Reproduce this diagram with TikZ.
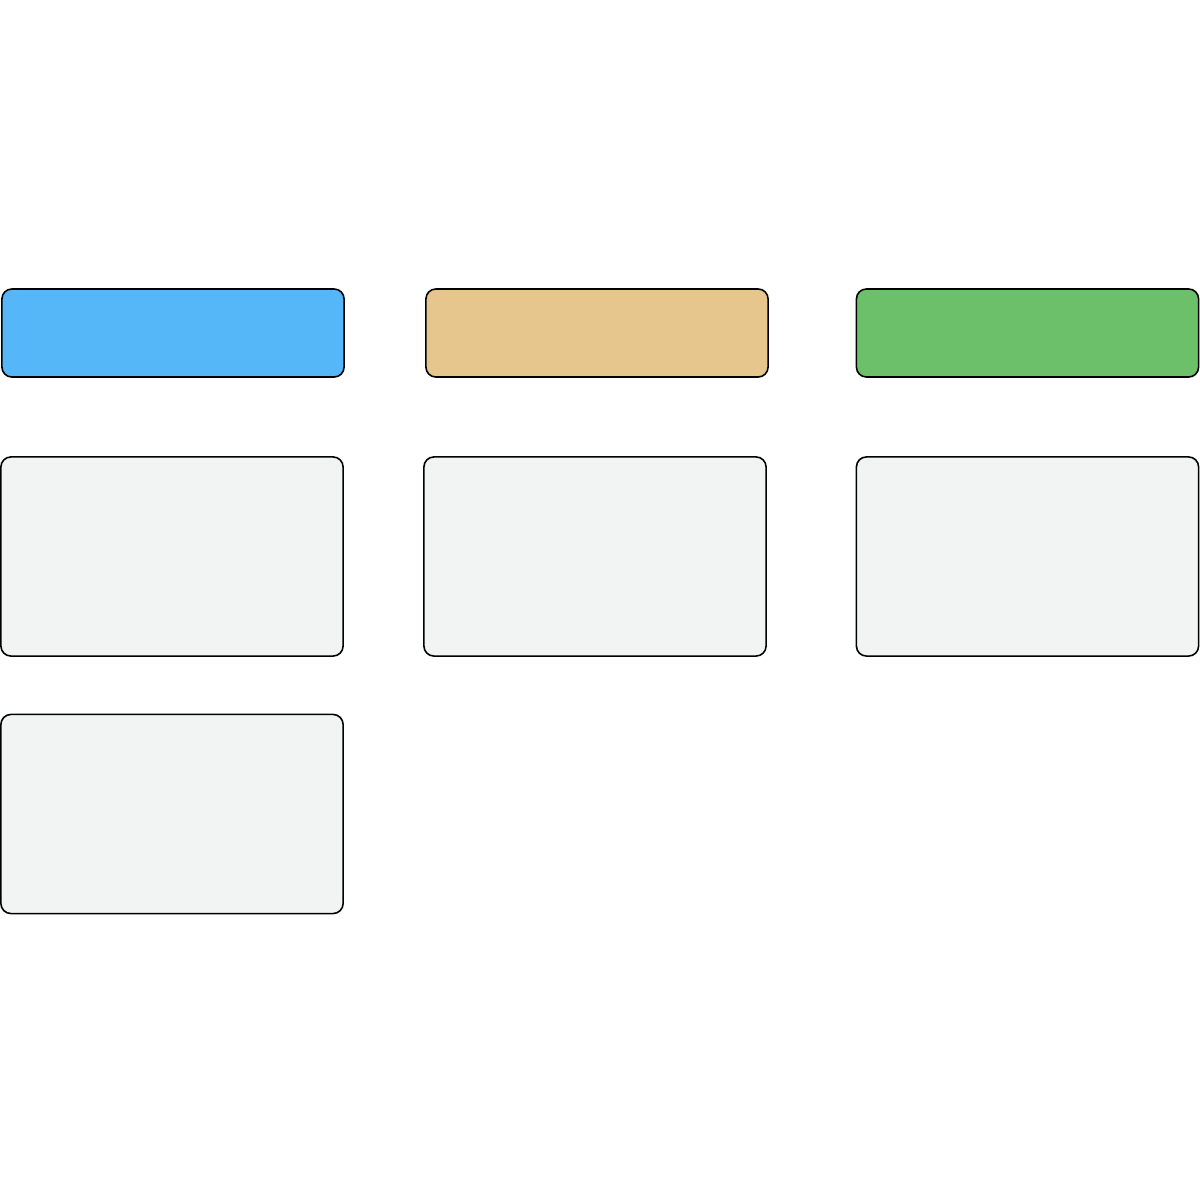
\documentclass[tikz,border=0pt]{standalone}
\usepackage{tikz}
\definecolor{cblue}{HTML}{55B6F8}
\definecolor{ctan}{HTML}{E6C68C}
\definecolor{cgreen}{HTML}{6CC06A}
\definecolor{cgrey}{HTML}{F2F3F3}
\begin{document}
\begin{tikzpicture}[x=0.01cm,y=-0.01cm,
  box/.style={draw=black,line width=0.45pt,rounded corners=0.1cm,inner sep=0pt,
    minimum width=3.42cm},
  head/.style={box,minimum height=0.88cm},
  card/.style={box,fill=cgrey,minimum height=1.99cm}]
\useasboundingbox[fill=white] (0,0) rectangle (1200,1200);
\node[head,fill=cblue] (h1) at (173,333) {};
\node[head,fill=ctan] (h2) at (597,333) {};
\node[head,fill=cgreen] (h3) at (1027.5,333) {};
\node[card] (c1) at (172,556.5) {};
\node[card] (c2) at (595,556.5) {};
\node[card] (c3) at (1027.5,556.5) {};
\node[card] (c4) at (172,814) {};
\end{tikzpicture}
\end{document}
